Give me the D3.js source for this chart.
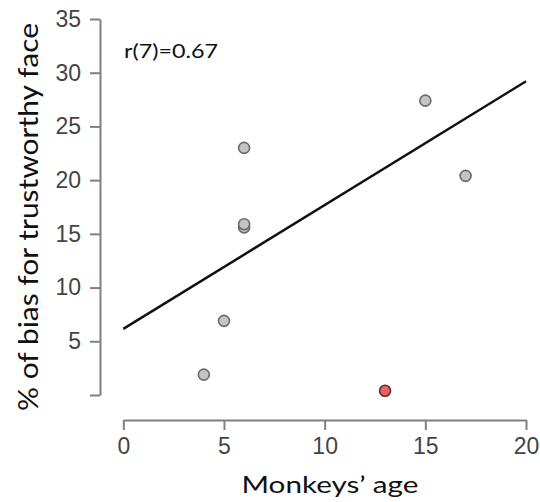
<!DOCTYPE html>
<html>
<head>
<meta charset="utf-8">
<script src="https://cdn.jsdelivr.net/npm/d3@7"></script>
<style>
html,body{margin:0;padding:0;background:#fff;}
svg{display:block;}
</style>
</head>
<body>
<svg id="chart" width="540" height="502"></svg>
<script>
// Data
const ages   = [4, 5, 6, 6, 6, 13, 15, 17];
const biases = [1.9, 6.9, 15.6, 15.9, 23.0, 0.4, 27.4, 20.4];
const highlighted = [false, false, false, false, false, true, false, false];
const fitX = [0, 20];
const fitY = [6.15, 29.2];
const xTicks = [0, 5, 10, 15, 20];
const yTicks = [5, 10, 15, 20, 25, 30, 35];
const annotation = "r(7)=0.67";
const xTitle = "Monkeys\u2019 age";
const yTitle = "% of bias for trustworthy face";

const svg = d3.select("#chart");
const x = d3.scaleLinear().domain([0, 20]).range([123.3, 526]);
const y = d3.scaleLinear().domain([0, 35]).range([395, 19]);

const axisColor = "#808080";
const labelColor = "#444";
const tickFont = "'Liberation Sans', Arial, sans-serif";
const titleFont = "Lato, 'Open Sans', sans-serif";

// X axis
const gx = svg.append("g").attr("transform", "translate(0,420)")
  .call(d3.axisBottom(x).tickValues(xTicks).tickSize(10).tickPadding(8).tickSizeOuter(0));
gx.select(".domain").attr("stroke", axisColor).attr("stroke-width", 2);
gx.selectAll(".tick line").attr("stroke", axisColor).attr("stroke-width", 2);
gx.selectAll(".tick text").attr("fill", labelColor).style("font-family", tickFont).style("font-size", "23px");

// Y axis
const gy = svg.append("g").attr("transform", "translate(100,0)")
  .call(d3.axisLeft(y).tickValues([0].concat(yTicks)).tickSize(10).tickPadding(9).tickSizeOuter(0)
    .tickFormat(d => d === 0 ? "" : d));
gy.select(".domain").attr("stroke", axisColor).attr("stroke-width", 2);
gy.selectAll(".tick line").attr("stroke", axisColor).attr("stroke-width", 2);
gy.selectAll(".tick text").attr("fill", labelColor).style("font-family", tickFont).style("font-size", "23px");

// Regression line
const line = d3.line().x(d => x(d[0])).y(d => y(d[1]));
svg.append("path")
  .datum(fitX.map((v, i) => [v, fitY[i]]))
  .attr("d", line)
  .attr("fill", "none")
  .attr("stroke", "#111")
  .attr("stroke-width", 2.5);

// Points
svg.append("g").selectAll("circle")
  .data(ages.map((a, i) => ({a, b: biases[i], h: highlighted[i]})))
  .join("circle")
  .attr("cx", d => x(d.a))
  .attr("cy", d => y(d.b))
  .attr("r", 5.5)
  .attr("fill", d => d.h ? "#f06060" : "#c4c4c4")
  .attr("stroke", d => d.h ? "#553333" : "#6a6a6a")
  .attr("stroke-width", 1.6);

// Annotation
svg.append("text")
  .attr("x", 124).attr("y", 57.5)
  .style("font-family", titleFont).style("font-size", "19px")
  .attr("textLength", 94).attr("lengthAdjust", "spacingAndGlyphs")
  .attr("fill", "#111")
  .text(annotation);

// Axis titles
svg.append("text")
  .attr("x", 330).attr("y", 493)
  .attr("text-anchor", "middle")
  .style("font-family", titleFont).style("font-size", "24px")
  .attr("textLength", 177).attr("lengthAdjust", "spacingAndGlyphs")
  .attr("fill", "#111")
  .text(xTitle);

svg.append("text")
  .attr("transform", "translate(38,217) rotate(-90)")
  .attr("text-anchor", "middle")
  .style("font-family", titleFont).style("font-size", "27px")
  .attr("textLength", 388).attr("lengthAdjust", "spacingAndGlyphs")
  .attr("fill", "#111")
  .text(yTitle);
</script>
</body>
</html>
